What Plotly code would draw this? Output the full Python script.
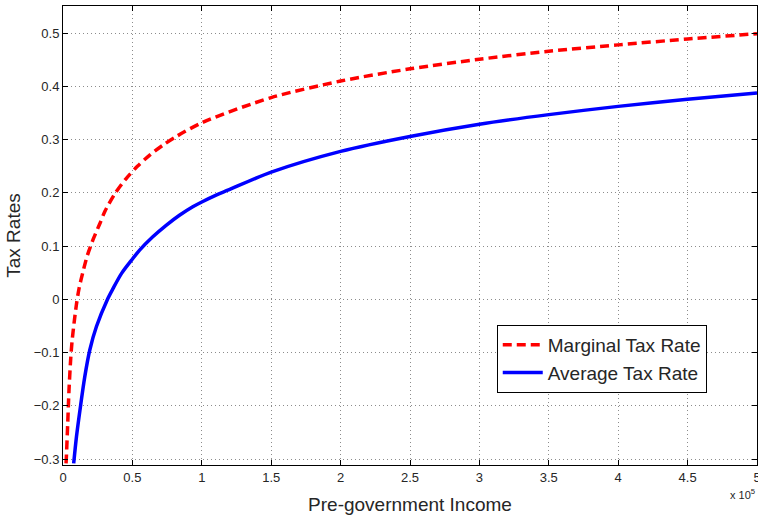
import plotly.graph_objects as go

# Marginal tax rate (income in units of 1e5)
marg_x = [0.022, 0.0245, 0.034, 0.0433, 0.0556, 0.065, 0.0795, 0.097, 0.116, 0.144,
          0.176, 0.217, 0.265, 0.303, 0.375, 0.452, 0.536, 0.625, 0.716, 0.817,
          1.01, 1.5, 2.0, 2.5, 3.0, 3.5, 4.0, 4.5, 5.0]
marg_y = [-0.308, -0.295, -0.233, -0.170, -0.111, -0.0795, -0.045, -0.009, 0.021, 0.052,
          0.083, 0.1126, 0.142, 0.166, 0.199, 0.226, 0.250, 0.271, 0.289, 0.306,
          0.333, 0.379, 0.41, 0.433, 0.451, 0.466, 0.478, 0.489, 0.499]

# Average tax rate
avg_x = [0.077, 0.097, 0.1256, 0.157, 0.193, 0.241, 0.32, 0.361, 0.422, 0.494,
         0.552, 0.647, 0.743, 0.839, 0.935, 1.0, 1.103, 1.187, 1.5, 2.0, 2.5, 3.0,
         3.5, 4.0, 4.5, 5.0]
avg_y = [-0.308, -0.258, -0.2015, -0.145, -0.095, -0.051, 0.0, 0.0206, 0.0488, 0.0737,
         0.0925, 0.1175, 0.139, 0.158, 0.174, 0.183, 0.196, 0.205, 0.239, 0.278, 0.306, 0.329,
         0.347, 0.3625, 0.376, 0.3875]

x_ticks = [0, 0.5, 1, 1.5, 2, 2.5, 3, 3.5, 4, 4.5, 5]
x_tick_labels = ["0", "0.5", "1", "1.5", "2", "2.5", "3", "3.5", "4", "4.5", "5"]
y_ticks = [-0.3, -0.2, -0.1, 0, 0.1, 0.2, 0.3, 0.4, 0.5]
y_tick_labels = ["\u22120.3", "\u22120.2", "\u22120.1", "0", "0.1", "0.2", "0.3", "0.4", "0.5"]

SCALE = 1e5
font_family = "Liberation Sans, Arial, sans-serif"
text_color = "#262626"

fig = go.Figure()
fig.add_trace(go.Scatter(
    x=[v * SCALE for v in marg_x], y=marg_y, mode="lines",
    name="Marginal Tax Rate",
    line=dict(color="#ff0000", width=3.5, dash="9px,5px", shape="spline", smoothing=0.8),
))
fig.add_trace(go.Scatter(
    x=[v * SCALE for v in avg_x], y=avg_y, mode="lines",
    name="Average Tax Rate",
    line=dict(color="#0000ff", width=3.5, shape="spline", smoothing=0.8),
))

axis_common = dict(
    showline=True, linecolor="black", linewidth=1, mirror="ticks",
    ticks="inside", ticklen=5, tickcolor="black",
    showgrid=True, gridcolor="#8c8c8c", gridwidth=1, griddash="1px,3px",
    zeroline=False, automargin=False, ticklabeloverflow="allow",
    tickfont=dict(family=font_family, size=13, color=text_color),
)

fig.update_xaxes(
    range=[0, 5 * SCALE],
    tickvals=[v * SCALE for v in x_ticks], ticktext=x_tick_labels,
    title=dict(text="Pre-government Income", font=dict(family=font_family, size=19, color=text_color),
               standoff=14),
    **axis_common,
)
fig.update_yaxes(
    range=[-0.311, 0.551],
    tickvals=y_ticks, ticktext=y_tick_labels,
    title=dict(text="Tax Rates", font=dict(family=font_family, size=19, color=text_color),
               standoff=8),
    **axis_common,
)

fig.add_annotation(
    text="x 10<sup>5</sup>", xref="paper", yref="paper", x=1.0, y=-0.063,
    xanchor="right", yanchor="middle", showarrow=False,
    font=dict(family=font_family, size=11, color=text_color),
)

fig.update_layout(
    width=758, height=519,
    margin=dict(l=63, r=1, t=6, b=54),
    paper_bgcolor="white", plot_bgcolor="white",
    showlegend=True,
    legend=dict(
        x=0.625, y=0.305, xanchor="left", yanchor="top",
        bgcolor="white", bordercolor="black", borderwidth=1,
        font=dict(family=font_family, size=19, color=text_color),
        itemwidth=40, tracegroupgap=0,
    ),
)

fig.write_html("out.html", config={"displayModeBar": False},
               post_script="document.body.style.margin='0';")
